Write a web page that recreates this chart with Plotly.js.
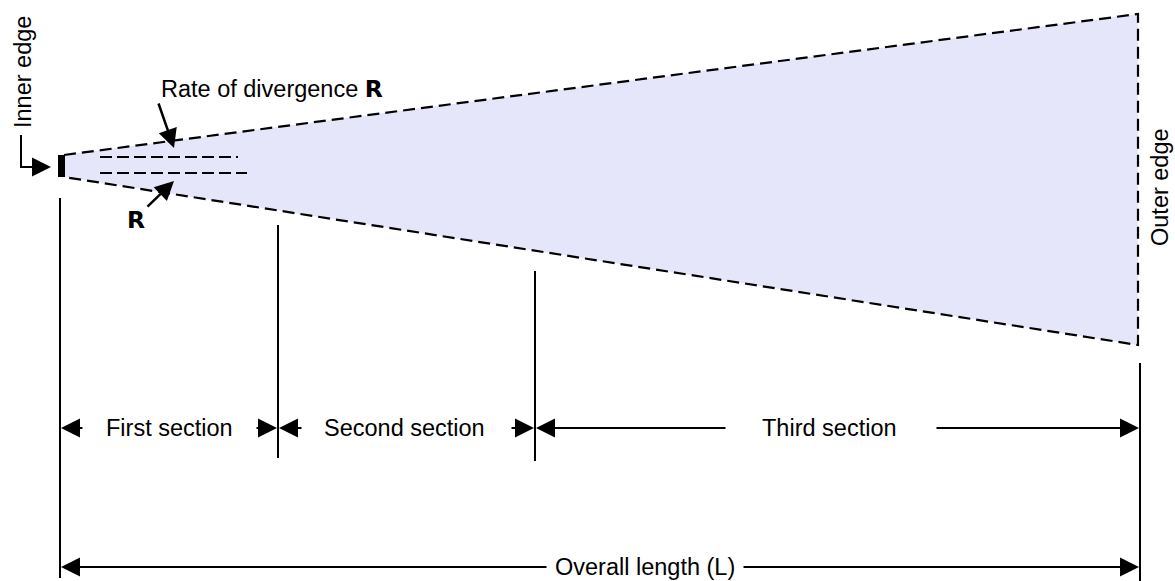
<!DOCTYPE html>
<html>
<head>
<meta charset="utf-8">
<script src="https://cdn.plot.ly/plotly-3.0.1.min.js"></script>
<style>html,body{margin:0;padding:0;background:#fff;}#chart{width:1175px;height:581px;}</style>
</head>
<body>
<div id="chart"></div>
<script>
// Diagram geometry (drawing units on a 1175 x 581 canvas)
const coneX = [64, 1138, 1138, 64];
const coneY = [155, 14, 345, 177];
const sectionBounds = [60, 278, 535, 1140];
const boundTops = [198, 225, 271, 363];
const boundBottoms = [578, 458, 461, 581];
const sectionLabels = ['First section', 'Second section', 'Third section'];
const sectionLabelX = [169, 404, 829];
const sectionArrowY = 428;
const overallLabel = 'Overall length (L)';
const overallLabelX = 645;
const overallArrowY = 567;
const innerDashX = [[100, 238], [100, 247]];
const innerDashY = [157, 173];

const black = '#000000';
const FONT = 'Liberation Sans, Arial, sans-serif';
const FS = 23.5;

const traces = [];
// filled cone
traces.push({x: coneX.concat([coneX[0]]), y: coneY.concat([coneY[0]]), mode: 'lines', fill: 'toself',
  fillcolor: 'rgb(230,230,250)', line: {width: 0, color: 'rgba(0,0,0,0)'}, hoverinfo: 'skip'});
// dashed outline (top, right, bottom)
traces.push({x: [coneX[0], coneX[1], coneX[2], coneX[3]], y: [coneY[0], coneY[1], coneY[2], coneY[3]], mode: 'lines',
  line: {color: black, width: 2.2, dash: '12px,6px'}, hoverinfo: 'skip'});
// inner dashed lines
innerDashX.forEach((xs, i) => {
  traces.push({x: xs, y: [innerDashY[i], innerDashY[i]], mode: 'lines',
    line: {color: black, width: 2, dash: '12px,5px'}, hoverinfo: 'skip'});
});
// inner edge bar
traces.push({x: [61.5, 61.5], y: [coneY[0], coneY[3]], mode: 'lines', line: {color: black, width: 7}, hoverinfo: 'skip'});
// inner edge leader
traces.push({x: [21, 21, 40], y: [135, 167, 167], mode: 'lines', line: {color: black, width: 2}, hoverinfo: 'skip'});
// section boundary lines
sectionBounds.forEach((bx, i) => {
  traces.push({x: [bx, bx], y: [boundTops[i], boundBottoms[i]], mode: 'lines', line: {color: black, width: 2}, hoverinfo: 'skip'});
});

const annotations = [];
function arrow(x0, y0, x1, y1, w) {
  const aw = w || 2;
  annotations.push({x: x1, y: y1, ax: x0, ay: y0, xref: 'x', yref: 'y', axref: 'x', ayref: 'y', text: '',
    showarrow: true, arrowhead: 2, arrowsize: 3.8 / aw, arrowwidth: aw, arrowcolor: black, standoff: 0, startstandoff: 0});
}
function label(txt, x, y, opts) {
  annotations.push(Object.assign({x: x, y: y, xref: 'x', yref: 'y', text: txt, showarrow: false,
    font: {family: FONT, size: FS, color: black}, xanchor: 'center', yanchor: 'middle'}, opts || {}));
}

// inner edge arrow
arrow(21, 167, 51, 167);
// divergence arrows
arrow(158, 102, 174, 148, 2.5);
arrow(146, 208, 174, 181, 2.5);
// section arrows
arrow(84, sectionArrowY, sectionBounds[0] + 1, sectionArrowY);
arrow(255, sectionArrowY, sectionBounds[1] - 1, sectionArrowY);
arrow(303, sectionArrowY, sectionBounds[1] + 1, sectionArrowY);
arrow(510, sectionArrowY, sectionBounds[2] - 1, sectionArrowY);
arrow(727, sectionArrowY, sectionBounds[2] + 1, sectionArrowY);
arrow(935, sectionArrowY, sectionBounds[3] - 1, sectionArrowY);
// overall arrows
arrow(548, overallArrowY, sectionBounds[0] + 1, overallArrowY);
arrow(742, overallArrowY, sectionBounds[3] - 1, overallArrowY);

sectionLabels.forEach((t, i) => label(t, sectionLabelX[i], sectionArrowY));
label(overallLabel, overallLabelX, overallArrowY);
label('Rate of divergence <span style="font-family:DejaVu Sans;font-weight:bold">R</span>', 272, 89);
label('<span style="font-family:DejaVu Sans;font-weight:bold">R</span>', 136, 220);
label('Inner edge', 23, 72, {textangle: -90});
label('Outer edge', 1160, 187, {textangle: -90});

const layout = {
  width: 1175, height: 581,
  margin: {l: 0, r: 0, t: 0, b: 0, pad: 0},
  paper_bgcolor: '#ffffff', plot_bgcolor: '#ffffff',
  showlegend: false,
  xaxis: {range: [0, 1175], visible: false, fixedrange: true},
  yaxis: {range: [581, 0], visible: false, fixedrange: true},
  annotations: annotations
};
Plotly.newPlot('chart', traces, layout, {staticPlot: true, displayModeBar: false});
</script>
</body>
</html>
